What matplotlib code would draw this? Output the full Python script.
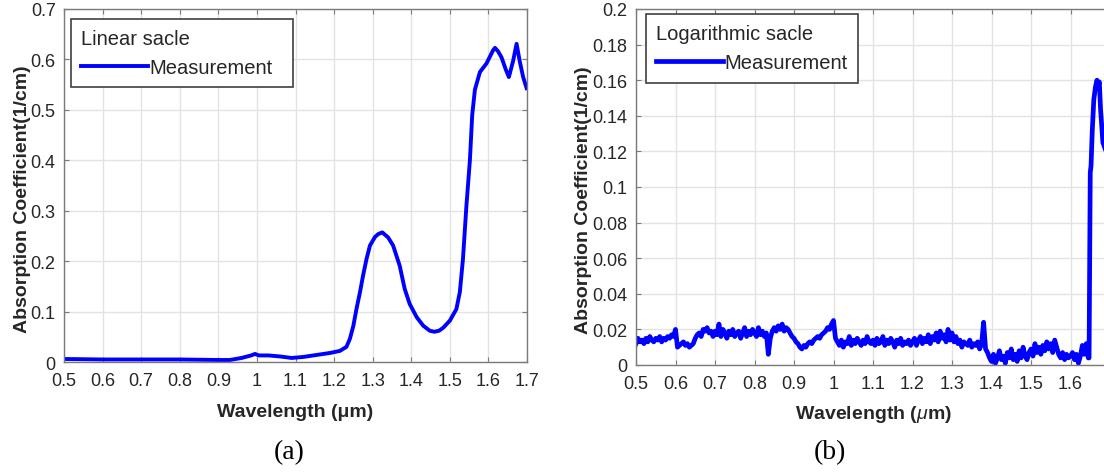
import numpy as np
import matplotlib
matplotlib.use("Agg")
import matplotlib.pyplot as plt
from matplotlib.ticker import FuncFormatter, MultipleLocator

# ---------------- data ----------------
# (a) linear scale measurement
wl_a = [0.50, 0.60, 0.70, 0.80, 0.90, 0.93, 0.96, 0.985, 0.995, 1.005, 1.03, 1.06,
        1.09, 1.12, 1.155, 1.19, 1.215, 1.232, 1.241, 1.250, 1.258, 1.267, 1.275,
        1.284, 1.293, 1.306, 1.315, 1.325, 1.340, 1.353, 1.370, 1.383, 1.396, 1.414,
        1.431, 1.448, 1.460, 1.472, 1.483, 1.500, 1.517, 1.526, 1.534, 1.543, 1.552,
        1.558, 1.565, 1.578, 1.595, 1.612, 1.617, 1.625, 1.634, 1.645, 1.653, 1.664,
        1.673, 1.681, 1.690, 1.699]
abs_a = [0.006, 0.005, 0.005, 0.005, 0.004, 0.004, 0.008, 0.013, 0.016, 0.013, 0.013, 0.011,
         0.008, 0.010, 0.014, 0.018, 0.022, 0.030, 0.046, 0.072, 0.105, 0.138, 0.171,
         0.204, 0.231, 0.248, 0.254, 0.257, 0.247, 0.231, 0.191, 0.145, 0.115, 0.089,
         0.072, 0.062, 0.060, 0.062, 0.068, 0.082, 0.105, 0.139, 0.204, 0.310, 0.400,
         0.490, 0.540, 0.575, 0.592, 0.618, 0.623, 0.616, 0.604, 0.580, 0.565, 0.597,
         0.631, 0.597, 0.565, 0.543]

# (b) logarithmic-scale measurement, sampled every 0.005 um from 0.5 to 1.645 um
abs_b_noise = [
    0.012, 0.015, 0.013, 0.014, 0.012, 0.015, 0.013, 0.016, 0.014, 0.013, 0.015, 0.014, 0.016, 0.013, 0.015, 0.014, 0.016, 0.015, 0.017, 0.016,
    0.020, 0.010, 0.011, 0.012, 0.013, 0.011, 0.012, 0.010, 0.011, 0.012, 0.015, 0.017, 0.018, 0.016, 0.020, 0.019, 0.021, 0.018, 0.019, 0.016,
    0.019, 0.017, 0.023, 0.016, 0.020, 0.018, 0.015, 0.019, 0.017, 0.020, 0.016, 0.018, 0.019, 0.015, 0.018, 0.021, 0.016, 0.019, 0.017, 0.020,
    0.018, 0.016, 0.021, 0.017, 0.019, 0.016, 0.018, 0.006, 0.015, 0.019, 0.021, 0.019, 0.022, 0.020, 0.023, 0.019, 0.021, 0.020, 0.018, 0.016,
    0.015, 0.013, 0.012, 0.010, 0.009, 0.011, 0.010, 0.012, 0.013, 0.012, 0.014, 0.015, 0.016, 0.015, 0.017, 0.018, 0.019, 0.021, 0.020, 0.023,
    0.025, 0.015, 0.013, 0.011, 0.014, 0.010, 0.013, 0.012, 0.016, 0.011, 0.014, 0.012, 0.015, 0.013, 0.011, 0.014, 0.012, 0.016, 0.013, 0.012,
    0.014, 0.011, 0.015, 0.012, 0.013, 0.016, 0.011, 0.014, 0.012, 0.015, 0.013, 0.010, 0.014, 0.012, 0.015, 0.011, 0.013, 0.012, 0.014, 0.011,
    0.013, 0.015, 0.011, 0.014, 0.016, 0.012, 0.015, 0.013, 0.017, 0.012, 0.016, 0.014, 0.018, 0.013, 0.019, 0.015, 0.017, 0.013, 0.020, 0.014,
    0.018, 0.013, 0.016, 0.012, 0.014, 0.010, 0.013, 0.012, 0.011, 0.014, 0.010, 0.012, 0.011, 0.013, 0.009, 0.012, 0.024, 0.009, 0.007, 0.004,
    0.002, 0.006, 0.001, 0.004, 0.008, 0.003, 0.005, 0.001, 0.007, 0.004, 0.009, 0.003, 0.006, 0.002, 0.008, 0.004, 0.010, 0.005, 0.003, 0.007,
    0.009, 0.005, 0.012, 0.007, 0.010, 0.006, 0.011, 0.008, 0.013, 0.009, 0.012, 0.007, 0.014, 0.010, 0.006, 0.004, 0.007, 0.003, 0.006, 0.004,
    0.005, 0.007, 0.003, 0.006, 0.001, 0.005, 0.011, 0.006, 0.012, 0.004,
]
wl_b_noise = np.round(np.arange(len(abs_b_noise)) * 0.005 + 0.5, 3).tolist()
wl_b_edge = [1.647, 1.650, 1.652, 1.655, 1.659, 1.663, 1.667, 1.670, 1.673, 1.676, 1.682, 1.690, 1.700]
abs_b_edge = [0.004, 0.108, 0.112, 0.131, 0.149, 0.156, 0.160, 0.157, 0.159, 0.144, 0.125, 0.120, 0.115]
wl_b = wl_b_noise + wl_b_edge
abs_b = abs_b_noise + abs_b_edge

x_ticks = [0.5, 0.6, 0.7, 0.8, 0.9, 1.0, 1.1, 1.2, 1.3, 1.4, 1.5, 1.6, 1.7]
x_labels_a = ['0.5', '0.6', '0.7', '0.8', '0.9', '1', '1.1', '1.2', '1.3', '1.4', '1.5', '1.6', '1.7']
x_labels_b = ['0.5', '0.6', '0.7', '0.8', '0.9', '1', '1.1', '1.2', '1.3', '1.4', '1.5', '1.6', '']

# ---------------- style ----------------
plt.rcParams['font.family'] = ['Liberation Sans', 'DejaVu Sans']
plt.rcParams['mathtext.fontset'] = 'custom'
plt.rcParams['mathtext.it'] = 'Liberation Sans:italic'
plt.rcParams['mathtext.rm'] = 'Liberation Sans'

BLUE = '#0000ff'
TXT = '#262626'
SPINE = '#7a7a7a'
GRID = '#e3e3e3'

fmt = FuncFormatter(lambda v, p: ('%g' % round(v, 4)))

W, H = 1104, 477
fig = plt.figure(figsize=(W / 100, H / 100), dpi=100)


def px_axes(x0, x1, ytop, ybot):
    return fig.add_axes([x0 / W, 1 - ybot / H, (x1 - x0) / W, (ybot - ytop) / H])


def style(ax, ystep, xlabels):
    ax.set_xticks(x_ticks, xlabels)
    ax.yaxis.set_major_locator(MultipleLocator(ystep))
    ax.yaxis.set_major_formatter(fmt)
    ax.grid(True, color=GRID, linewidth=1.0)
    ax.set_axisbelow(True)
    for s in ax.spines.values():
        s.set_color(SPINE)
        s.set_linewidth(1.0)
    ax.tick_params(direction='in', length=3.5, width=0.8, color=SPINE,
                   top=True, right=True, labelsize=13, labelcolor=TXT)
    ax.tick_params(axis='x', pad=7)
    ax.tick_params(axis='y', pad=6)


def legend(ax, title, bbox):
    leg = ax.legend(title=title, loc='upper left', bbox_to_anchor=bbox, mode='expand',
                    fontsize=14.5, title_fontsize=14.5, alignment='left',
                    handlelength=3.3, handletextpad=0.1, borderpad=0.5,
                    borderaxespad=0.0, fancybox=False, framealpha=1.0,
                    labelspacing=0.5)
    leg.get_frame().set_edgecolor('#404040')
    leg.get_frame().set_linewidth(1.2)
    leg.get_title().set_color(TXT)
    for t in leg.get_texts():
        t.set_color(TXT)
    return leg


# ---- (a) ----
ax1 = px_axes(64, 527, 10, 363)
ax1.plot(wl_a, abs_a, color=BLUE, linewidth=2.8, label='Measurement')
ax1.set_xlim(0.5, 1.7)
ax1.set_ylim(0, 0.7)
style(ax1, 0.1, x_labels_a)
ax1.set_xlabel('Wavelength (μm)', fontsize=14, fontweight='bold', color=TXT)
ax1.set_ylabel('Absorption Coefficient(1/cm)', fontsize=14, fontweight='bold', color=TXT)
ax1.xaxis.set_label_coords(0.5, (363 - 404) / 353)
ax1.yaxis.set_label_coords((31 - 64) / 463, (363 - 199) / 353)
legend(ax1, 'Linear sacle', (7 / 463, 0.772, 222 / 463, 0.2))

# ---- (b) ----
ax2 = px_axes(636, 1110, 10, 366)
ax2.plot(wl_b, abs_b, color=BLUE, linewidth=3.4, label='Measurement')
ax2.set_xlim(0.5, 1.7)
ax2.set_ylim(0, 0.2)
style(ax2, 0.02, x_labels_b)
ax2.set_xlabel(r'Wavelength ($\mu$m)', fontsize=14, fontweight='bold', color=TXT)
ax2.set_ylabel('Absorption Coefficient(1/cm)', fontsize=14, fontweight='bold', color=TXT)
ax2.xaxis.set_label_coords((873 - 636) / 474, (366 - 404) / 356)
ax2.yaxis.set_label_coords((592 - 636) / 474, (366 - 200) / 356)
legend(ax2, 'Logarithmic sacle', (10 / 474, 0.985, 212 / 474, 0.0))

fig.text(289 / W, 1 - 453 / H, '(a)', ha='center', va='center',
         family=['Liberation Serif', 'DejaVu Serif'], fontsize=20, color='black')
fig.text(830 / W, 1 - 453 / H, '(b)', ha='center', va='center',
         family=['Liberation Serif', 'DejaVu Serif'], fontsize=20, color='black')

fig.savefig('out.png', dpi=100)
